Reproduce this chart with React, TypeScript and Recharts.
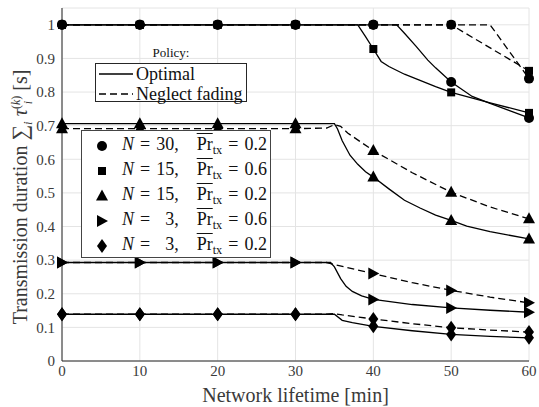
import React from "react";
import { LineChart, Line, XAxis, YAxis, CartesianGrid } from "recharts";

type Shape = "circle" | "square" | "triangle" | "right" | "diamond";

const serif = '"Liberation Serif", serif';

const xTicks = [0, 10, 20, 30, 40, 50, 60];
const yTicks = [0, 0.1, 0.2, 0.3, 0.4, 0.5, 0.6, 0.7, 0.8, 0.9, 1];

// [minutes, seconds]
// N = 30, Pr = 0.2
const n30p02Optimal = [[0, 1], [10, 1], [20, 1], [30, 1], [40, 1], [43, 1], [44, 0.975], [45.5, 0.936], [47, 0.895], [48, 0.872], [50, 0.83], [52.7, 0.787], [55, 0.766], [57.5, 0.745], [60, 0.723]];
const n30p02Neglect = [[0, 1], [10, 1], [20, 1], [30, 1], [40, 1], [50, 1], [55, 1], [60, 0.84]];
// N = 15, Pr = 0.6
const n15p06Optimal = [[0, 1], [10, 1], [20, 1], [30, 1], [38, 1], [39, 0.965], [40, 0.928], [41, 0.891], [42, 0.876], [44, 0.853], [46, 0.835], [48, 0.816], [50, 0.799], [55, 0.768], [60, 0.738]];
const n15p06Neglect = [[0, 1], [10, 1], [20, 1], [30, 1], [40, 1], [50, 1], [60, 0.863]];
// N = 15, Pr = 0.2
const n15p02Optimal = [[0, 0.706], [10, 0.706], [20, 0.706], [30, 0.706], [35, 0.706], [35.4, 0.69], [36, 0.655], [37, 0.612], [38, 0.585], [39, 0.563], [40, 0.547], [42, 0.512], [44, 0.478], [46, 0.455], [48, 0.434], [50, 0.418], [52, 0.401], [55, 0.385], [60, 0.363]];
const n15p02Neglect = [[0, 0.691], [10, 0.691], [20, 0.691], [30, 0.691], [34, 0.693], [35, 0.703], [35.8, 0.698], [36.7, 0.678], [40, 0.626], [45, 0.56], [50, 0.502], [55, 0.458], [60, 0.423]];
// N = 3, Pr = 0.6
const n3p06Optimal = [[0, 0.293], [10, 0.293], [20, 0.293], [30, 0.293], [34.5, 0.293], [35, 0.28], [35.8, 0.245], [36.5, 0.222], [37.3, 0.207], [38.5, 0.194], [40, 0.183], [45, 0.168], [50, 0.158], [55, 0.151], [60, 0.145]];
const n3p06Neglect = [[0, 0.293], [10, 0.293], [20, 0.293], [30, 0.293], [34, 0.293], [35, 0.287], [40, 0.26], [45, 0.233], [50, 0.21], [55, 0.19], [60, 0.173]];
// N = 3, Pr = 0.2
const n3p02Optimal = [[0, 0.139], [10, 0.139], [20, 0.139], [30, 0.139], [35, 0.139], [36, 0.121], [37.3, 0.114], [40, 0.103], [45, 0.09], [50, 0.079], [55, 0.073], [60, 0.069]];
const n3p02Neglect = [[0, 0.139], [10, 0.139], [20, 0.139], [30, 0.139], [34, 0.139], [35, 0.141], [36, 0.137], [40, 0.125], [45, 0.111], [50, 0.099], [55, 0.092], [60, 0.086]];

const series: { id: string; pts: number[][]; shape: Shape; dashed: boolean }[] = [
  { id: "n30o", pts: n30p02Optimal, shape: "circle", dashed: false },
  { id: "n30n", pts: n30p02Neglect, shape: "circle", dashed: true },
  { id: "n15o6", pts: n15p06Optimal, shape: "square", dashed: false },
  { id: "n15n6", pts: n15p06Neglect, shape: "square", dashed: true },
  { id: "n15o2", pts: n15p02Optimal, shape: "triangle", dashed: false },
  { id: "n15n2", pts: n15p02Neglect, shape: "triangle", dashed: true },
  { id: "n3o6", pts: n3p06Optimal, shape: "right", dashed: false },
  { id: "n3n6", pts: n3p06Neglect, shape: "right", dashed: true },
  { id: "n3o2", pts: n3p02Optimal, shape: "diamond", dashed: false },
  { id: "n3n2", pts: n3p02Neglect, shape: "diamond", dashed: true },
];

const legendRows: { shape: Shape; n: string; pr: string }[] = [
  { shape: "circle", n: "30", pr: "0.2" },
  { shape: "square", n: "15", pr: "0.6" },
  { shape: "triangle", n: "15", pr: "0.2" },
  { shape: "right", n: "3", pr: "0.6" },
  { shape: "diamond", n: "3", pr: "0.2" },
];

function Marker({ shape, cx, cy }: { shape: Shape; cx: number; cy: number }) {
  switch (shape) {
    case "circle":
      return <circle cx={cx} cy={cy} r={5} fill="#000" />;
    case "square":
      return <rect x={cx - 4} y={cy - 4} width={8} height={8} fill="#000" />;
    case "triangle":
      return <polygon points={`${cx},${cy - 6.5} ${cx + 6},${cy + 4.5} ${cx - 6},${cy + 4.5}`} fill="#000" />;
    case "right":
      return <polygon points={`${cx - 5},${cy - 6} ${cx + 6},${cy} ${cx - 5},${cy + 6}`} fill="#000" />;
    default:
      return <polygon points={`${cx},${cy - 7} ${cx + 5},${cy} ${cx},${cy + 7} ${cx - 5},${cy}`} fill="#000" />;
  }
}

function MarkerIcon({ shape }: { shape: Shape }) {
  return (
    <svg width={16} height={16} style={{ display: "block" }}>
      <Marker shape={shape} cx={8} cy={8} />
    </svg>
  );
}

function TxLabel({ n, pr }: { n: string; pr: string }) {
  return (
    <span style={{ whiteSpace: "pre" }}>
      <i>N</i>
      {"\u2004=\u2004"}
      <span style={{ display: "inline-block", width: "1em", textAlign: "right" }}>{n}</span>,{"\u2002\u2002"}
      <span style={{ textDecoration: "overline" }}>Pr</span>
      <span style={{ fontSize: "0.68em", verticalAlign: "-0.3em" }}>tx</span>
      {"\u2004=\u2004"}
      {pr}
    </span>
  );
}

const tickStyle = { fontSize: 15, fill: "#3a3a3a", fontFamily: serif };

export default function App() {
  return (
    <div style={{ position: "absolute", left: 0, top: 0, width: 539, height: 407, background: "#fff", fontFamily: serif, color: "#111" }}>
      <LineChart width={539} height={407} margin={{ top: 8, right: 10, bottom: 0, left: 0 }} style={{ fontFamily: serif }}>
        <CartesianGrid stroke="#e4e4e4" strokeWidth={1} />
        <XAxis
          dataKey="x"
          type="number"
          domain={[0, 60]}
          ticks={xTicks}
          height={46}
          tickLine={false}
          tickSize={0}
          tickMargin={4}
          axisLine={{ stroke: "#262626" }}
          tick={tickStyle}
          label={{ value: "Network lifetime [min]", position: "insideBottom", offset: 5, fontSize: 20, fill: "#3a3a3a", fontFamily: serif }}
        />
        <XAxis xAxisId="top" orientation="top" type="number" domain={[0, 60]} height={0} tick={false} tickLine={false} axisLine={{ stroke: "#262626" }} />
        <YAxis
          type="number"
          domain={[0, 1.05]}
          ticks={yTicks}
          width={62}
          tickLine={false}
          tickSize={0}
          tickMargin={7}
          axisLine={{ stroke: "#262626" }}
          tick={tickStyle}
        />
        <YAxis yAxisId="right" orientation="right" type="number" domain={[0, 1.05]} width={0} tick={false} tickLine={false} axisLine={{ stroke: "#262626" }} />
        {series.map((s) => (
          <Line
            key={s.id}
            data={s.pts.map(([x, y]) => ({ x, y }))}
            dataKey="y"
            type="linear"
            stroke="#000"
            strokeWidth={1.3}
            strokeDasharray={s.dashed ? "7 4" : undefined}
            isAnimationActive={false}
            activeDot={false}
            dot={(p: any) => {
              const k = `${s.id}-${p.index}`;
              if (p.payload.x % 10 !== 0) return <g key={k} />;
              return (
                <g key={k}>
                  <Marker shape={s.shape} cx={p.cx} cy={p.cy} />
                </g>
              );
            }}
          />
        ))}
      </LineChart>

      {/* y axis title */}
      <div
        style={{
          position: "absolute",
          left: 20 - 170,
          top: 197 - 13,
          width: 340,
          height: 26,
          lineHeight: "26px",
          textAlign: "center",
          transform: "rotate(-90deg)",
          fontSize: 20,
          color: "#3a3a3a",
          whiteSpace: "nowrap",
        }}
      >
        Transmission duration{" "}
        <span style={{ fontSize: 22 }}>∑</span>
        <i style={{ fontSize: 13, verticalAlign: "-0.4em" }}>i</i>{" "}
        <i>τ</i>
        <span style={{ display: "inline-flex", flexDirection: "column", verticalAlign: "middle", fontSize: 12, lineHeight: "12px" }}>
          <span>
            (<i>k</i>)
          </span>
          <i>i</i>
        </span>{" "}
        [s]
      </div>

      {/* policy legend */}
      <div style={{ position: "absolute", left: 95, top: 45, width: 152, textAlign: "center", fontSize: 13, lineHeight: "16px" }}>Policy:</div>
      <div
        style={{
          position: "absolute",
          left: 95,
          top: 63,
          width: 152,
          height: 39,
          boxSizing: "border-box",
          border: "1px solid #262626",
          background: "#fff",
          fontSize: 18,
        }}
      >
        {[
          { label: "Optimal", dash: undefined, top: 0 },
          { label: "Neglect fading", dash: "7 4", top: 20 },
        ].map((r) => (
          <div key={r.label} style={{ position: "absolute", left: 2, top: r.top, height: 20, display: "flex", alignItems: "center", whiteSpace: "nowrap" }}>
            <svg width={36} height={20} style={{ display: "block" }}>
              <line x1={1} y1={10} x2={35} y2={10} stroke="#000" strokeWidth={1.3} strokeDasharray={r.dash} />
            </svg>
            <span style={{ marginLeft: 2 }}>{r.label}</span>
          </div>
        ))}
      </div>

      {/* configuration legend */}
      <div
        style={{
          position: "absolute",
          left: 81,
          top: 130,
          width: 190,
          height: 128,
          boxSizing: "border-box",
          border: "1px solid #444",
          background: "#fff",
          fontSize: 18,
        }}
      >
        {legendRows.map((r, i) => (
          <div key={r.shape} style={{ position: "absolute", left: 12, top: 3 + i * 25, height: 24, display: "flex", alignItems: "center", whiteSpace: "nowrap" }}>
            <MarkerIcon shape={r.shape} />
            <span style={{ marginLeft: 12 }}>
              <TxLabel n={r.n} pr={r.pr} />
            </span>
          </div>
        ))}
      </div>
    </div>
  );
}
